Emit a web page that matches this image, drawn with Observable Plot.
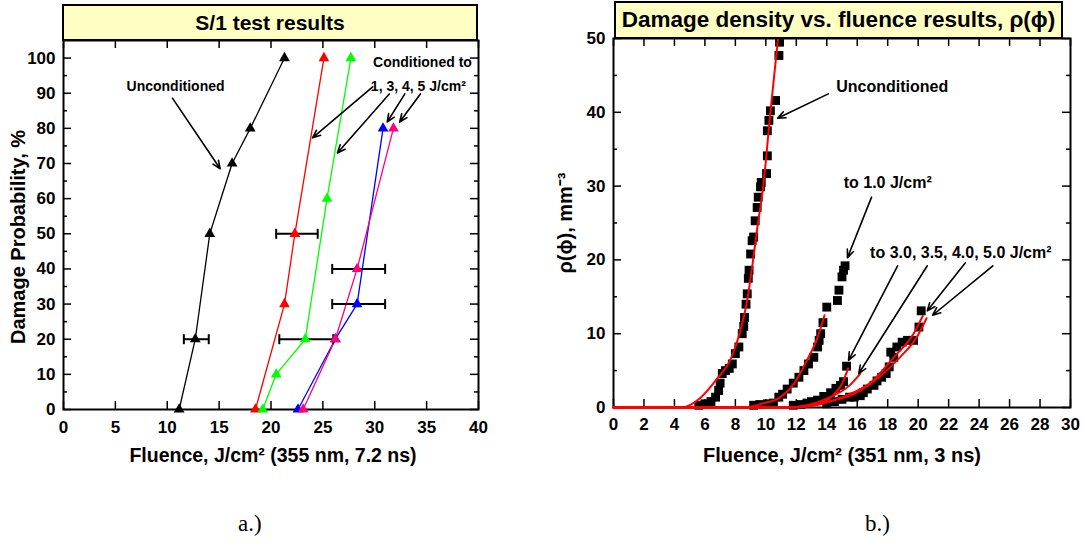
<!DOCTYPE html>
<html><head><meta charset="utf-8">
<script src="https://cdn.jsdelivr.net/npm/d3@7"></script>
<script src="https://cdn.jsdelivr.net/npm/@observablehq/plot@0.6"></script>
<style>
body{margin:0;background:#fff;}
#wrap{position:relative;width:1084px;height:543px;overflow:hidden;background:#fff;font-family:"Liberation Sans",Arial,sans-serif;}
.title{position:absolute;box-sizing:border-box;border:2px solid #000;background:#FFFFC4;font-weight:bold;display:flex;align-items:center;justify-content:center;}
.cap{position:absolute;font-family:"Liberation Serif","Times New Roman",serif;font-size:23px;}
#pa,#pb{position:absolute;top:0;}
</style></head><body>
<div id="wrap">
 <div id="pa" style="left:0"></div>
 <div id="pb" style="left:540px"></div>
 <div class="title" style="left:62px;top:4px;width:416px;height:37px;font-size:21px">S/1 test results</div>
 <div class="title" style="left:614px;top:1px;width:449px;height:38px;font-size:22.5px">Damage density vs. fluence results, ρ(ϕ)</div>
 <div class="cap" style="left:238px;top:511px">a.)</div>
 <div class="cap" style="left:865px;top:511px">b.)</div>
</div>
<script>
// ---------- Panel a data: S/1 damage probability ----------
const uncondX = [11.15, 12.7, 14.1, 16.25, 18.0, 21.3];
const uncondY = [0, 20, 50, 70, 80, 100];
const cond1X = [18.5, 21.3, 22.3, 25.1];
const cond1Y = [0, 30, 50, 100];
const cond3X = [19.2, 20.5, 23.3, 25.4, 27.7];
const cond3Y = [0, 10, 20, 60, 100];
const cond4X = [22.6, 26.2, 28.3, 30.8];
const cond4Y = [0, 20, 30, 80];
const cond5X = [23.1, 26.2, 28.3, 31.8];
const cond5Y = [0, 20, 40, 80];
const errY  = [20, 50, 20, 30, 40];
const errLo = [11.6, 20.5, 20.8, 25.9, 25.9];
const errHi = [14.0, 24.5, 26.0, 31.0, 31.0];
const xTicksA = [0, 5, 10, 15, 20, 25, 30, 35, 40];
const yTicksA = [0, 10, 20, 30, 40, 50, 60, 70, 80, 90, 100];
const yMinorA = [5, 15, 25, 35, 45, 55, 65, 75, 85, 95];
const annTextA = ["Unconditioned", "Conditioned to", "1, 3, 4, 5 J/cm²"];
const annXA = [10.8, 34.6, 34.2];
const annYA = [91.8, 98.6, 91.8];
const arrX1A = [10.5, 29.8, 31.4, 32.9, 34.4];
const arrY1A = [88.6, 91.8, 89.8, 89.8, 89.8];
const arrX2A = [15.1, 24.0, 26.4, 31.2, 32.4];
const arrY2A = [68.5, 77.3, 73.0, 81.8, 81.8];

// ---------- Panel b data: damage density ----------
const uncX = [5.6, 6.0, 6.4, 6.7, 6.9, 7.0, 7.14, 7.35, 7.6, 7.8, 8.0, 8.23, 8.45, 8.55, 8.6, 8.7, 8.78, 8.85, 8.9, 9.0, 9.1, 9.2, 9.3, 9.43, 9.5, 9.65, 9.7, 10.05, 10.1, 10.1, 10.2, 10.3, 10.64, 10.86, 10.9];
const uncY = [0.3, 0.5, 0.8, 1.4, 2.3, 3.3, 4.6, 5.0, 5.3, 5.9, 7.3, 8.2, 10.0, 11.0, 12.2, 14.0, 15.4, 17.5, 18.6, 20.8, 22.6, 23.1, 25.3, 27.1, 28.5, 29.9, 30.5, 31.7, 34.1, 37.5, 38.9, 40.2, 41.6, 47.7, 49.5];
const c10X = [9.2, 9.6, 10.1, 10.5, 10.85, 11.1, 11.4, 11.8, 12.17, 12.5, 12.8, 13.15, 13.4, 13.5, 13.6, 13.75, 14.0, 14.7, 14.8, 15.0, 15.1, 15.2];
const c10Y = [0.3, 0.4, 0.5, 0.6, 1.4, 1.8, 2.5, 3.3, 4.1, 5.0, 5.9, 6.8, 8.2, 9.1, 10.0, 11.5, 13.6, 14.5, 15.9, 17.7, 18.6, 19.2];
const c30X = [11.8, 12.3, 12.7, 13.0, 13.4, 13.8, 14.25, 14.6, 14.9, 15.1, 15.3];
const c30Y = [0.3, 0.4, 0.6, 0.8, 1.0, 1.5, 2.0, 2.6, 3.0, 3.5, 5.6];
const c45X = [14.0, 14.5, 15.0, 15.5, 15.8, 16.2, 16.4, 16.66, 17.1, 17.3, 17.6, 17.9, 18.1, 18.2, 18.4, 18.6, 18.95, 19.3, 19.7, 20.05, 20.2];
const c45Y = [0.5, 0.8, 1.1, 1.4, 1.4, 1.6, 2.0, 2.5, 3.0, 3.6, 4.1, 4.6, 5.5, 7.5, 6.8, 8.2, 8.85, 9.1, 9.1, 10.9, 13.1];
const fitUncX = [0, 4.5, 5.7, 6.8, 7.7, 8.3, 8.8, 9.1, 9.45, 9.83, 10.3, 10.8];
const fitUncY = [0, 0.05, 1.3, 3.9, 6.6, 10.2, 14.8, 19.0, 24.5, 30, 40, 50];
const fit10X = [0, 8.5, 9.9, 10.96, 11.84, 12.7, 13.4, 13.85];
const fit10Y = [0, 0, 0.6, 1.4, 3.2, 6.4, 9.5, 12.5];
const fit30X = [0, 11, 13.4, 14.5, 15.0, 15.4];
const fit30Y = [0, 0, 0.5, 1.85, 3.2, 5.3];
const fit35X = [0, 11.5, 14, 15.5, 16.2];
const fit35Y = [0, 0, 1.2, 3.0, 4.6];
const fit40X = [0, 12, 15, 17, 18.4, 19.7, 20.3];
const fit40Y = [0, 0, 1.4, 3.6, 6.8, 10, 12.4];
const fit50X = [0, 12, 13.4, 16.2, 18.8, 19.9, 20.55];
const fit50Y = [0, 0, 0.5, 2.3, 6.8, 9.5, 12.1];
const xTicksB = [0, 2, 4, 6, 8, 10, 12, 14, 16, 18, 20, 22, 24, 26, 28, 30];
const yTicksB = [0, 10, 20, 30, 40, 50];
const yMinorB = [5, 15, 25, 35, 45];
const annTextB = ["Unconditioned", "to 1.0 J/cm²", "to 3.0, 3.5, 4.0, 5.0 J/cm²"];
const annXB = [18.3, 18.0, 22.8];
const annYB = [43.4, 30.4, 20.9];
const arrX1B = [14.1, 16.94, 18.65, 20.6, 23.1, 24.9];
const arrY1B = [42.5, 28.5, 19.2, 19.2, 19.6, 19.2];
const arrX2B = [10.77, 15.36, 15.43, 16.1, 20.6, 20.95];
const arrY2B = [39.2, 20.3, 6.4, 4.6, 13.1, 12.5];

// ---------- helpers ----------
const zip = (xs, ys, extra = {}) => xs.map((x, i) => ({x, y: ys[i], ...extra}));
const font = "Liberation Sans, Arial, sans-serif";
const capSymbol = {draw(ctx, size) { const h = Math.sqrt(size / Math.PI); ctx.moveTo(0, -h); ctx.lineTo(0, h); }};

function frameTicks(xMajor, yMajor, yMinor, plotW, plotH) {
  const s = {stroke: "#000", strokeWidth: 1.5};
  return [
    Plot.tickX(xMajor, {x: d => d, insetTop: plotH - 8, ...s}),
    Plot.tickX(xMajor, {x: d => d, insetBottom: plotH - 8, ...s}),
    Plot.tickY(yMajor, {y: d => d, insetRight: plotW - 8, ...s}),
    Plot.tickY(yMajor, {y: d => d, insetLeft: plotW - 8, ...s}),
    Plot.tickY(yMinor, {y: d => d, insetRight: plotW - 4, ...s}),
    Plot.tickY(yMinor, {y: d => d, insetLeft: plotW - 4, ...s})
  ];
}

// ---------- Panel a ----------
{
  const W = 540, H = 480, mL = 63, mR = 62, mT = 40, mB = 71;
  const series = [
    {xs: uncondX, ys: uncondY, c: "#000000"},
    {xs: cond1X, ys: cond1Y, c: "#FF0000"},
    {xs: cond3X, ys: cond3Y, c: "#00FF00"},
    {xs: cond4X, ys: cond4Y, c: "#0000FF"},
    {xs: cond5X, ys: cond5Y, c: "#FF0080"}
  ];
  const pts = series.flatMap((s, k) => zip(s.xs, s.ys, {c: s.c, k}));
  const errs = errY.map((y, i) => ({y, lo: errLo[i], hi: errHi[i]}));
  const caps = errs.flatMap(e => [{x: e.lo, y: e.y}, {x: e.hi, y: e.y}]);
  const anns = annTextA.map((t, i) => ({t, x: annXA[i], y: annYA[i]}));
  const arrs = arrX1A.map((x1, i) => ({x1, y1: arrY1A[i], x2: arrX2A[i], y2: arrY2A[i]}));
  const plot = Plot.plot({
    width: W, height: H, marginLeft: mL, marginRight: mR, marginTop: mT, marginBottom: mB,
    x: {domain: [0, 40]}, y: {domain: [0, 105]},
    style: {fontFamily: font, background: "transparent", overflow: "visible"},
    marks: [
      Plot.frame({stroke: "#000", strokeWidth: 2}),
      ...frameTicks(xTicksA, yTicksA, yMinorA, W - mL - mR, H - mT - mB),
      ...series.map((s, k) => Plot.line(pts.filter(p => p.k === k), {x: "x", y: "y", stroke: s.c, strokeWidth: 1.3})),
      Plot.ruleY(errs, {y: "y", x1: "lo", x2: "hi", stroke: "#000", strokeWidth: 2}),
      Plot.dot(caps, {x: "x", y: "y", symbol: capSymbol, r: 5, fill: "none", stroke: "#000", strokeWidth: 2}),
      Plot.dot(pts, {x: "x", y: "y", symbol: "triangle", r: 4, fill: "c", stroke: "none"}),
      Plot.arrow(arrs, {x1: "x1", y1: "y1", x2: "x2", y2: "y2", stroke: "#000", strokeWidth: 1.6, headLength: 8, headAngle: 45}),
      Plot.text(anns, {x: "x", y: "y", text: "t", fontSize: 14, fontWeight: "bold", fill: "#000"}),
      Plot.axisX({ticks: xTicksA, tickSize: 0, tickPadding: 11, fontSize: 17, fontWeight: "bold", label: null}),
      Plot.axisY({ticks: yTicksA, tickSize: 0, tickPadding: 8, fontSize: 17, fontWeight: "bold", label: null}),
      Plot.text(["Fluence, J/cm² (355 nm, 7.2 ns)"], {frameAnchor: "bottom", dy: 46, dx: 2, lineAnchor: "middle", fontSize: 19.5, fontWeight: "bold", fill: "#000"}),
      Plot.text(["Damage Probability, %"], {frameAnchor: "left", textAnchor: "middle", dx: -45, dy: 12, rotate: -90, lineAnchor: "middle", fontSize: 20, fontWeight: "bold", fill: "#000"})
    ]
  });
  document.getElementById("pa").appendChild(plot);
}

// ---------- Panel b ----------
{
  const W = 544, H = 480, mL = 73, mR = 14, mT = 38, mB = 73;
  const squares = [
    ...zip(uncX, uncY), ...zip(c10X, c10Y), ...zip(c30X, c30Y), ...zip(c45X, c45Y)
  ];
  const fits = [[fitUncX, fitUncY], [fit10X, fit10Y], [fit30X, fit30Y], [fit35X, fit35Y], [fit40X, fit40Y], [fit50X, fit50Y]];
  const anns = annTextB.map((t, i) => ({t, x: annXB[i], y: annYB[i]}));
  const arrs = arrX1B.map((x1, i) => ({x1, y1: arrY1B[i], x2: arrX2B[i], y2: arrY2B[i]}));
  const plot = Plot.plot({
    width: W, height: H, marginLeft: mL, marginRight: mR, marginTop: mT, marginBottom: mB,
    x: {domain: [0, 30]}, y: {domain: [0, 50]},
    style: {fontFamily: font, background: "transparent", overflow: "visible"},
    marks: [
      Plot.frame({stroke: "#000", strokeWidth: 2}),
      ...frameTicks(xTicksB, yTicksB, yMinorB, W - mL - mR, H - mT - mB),
      Plot.dot(squares, {x: "x", y: "y", symbol: "square", r: 5, fill: "#000", stroke: "none"}),
      ...fits.map(([xs, ys]) => Plot.line(zip(xs, ys), {x: "x", y: "y", stroke: "#FF0000", strokeWidth: 2, curve: "monotone-x"})),
      Plot.arrow(arrs, {x1: "x1", y1: "y1", x2: "x2", y2: "y2", stroke: "#000", strokeWidth: 1.6, headLength: 8, headAngle: 45}),
      Plot.text(anns, {x: "x", y: "y", text: "t", fontSize: 16, fontWeight: "bold", fill: "#000"}),
      Plot.axisX({ticks: xTicksB, tickSize: 0, tickPadding: 10, fontSize: 17, fontWeight: "bold", label: null}),
      Plot.axisY({ticks: yTicksB, tickSize: 0, tickPadding: 8, fontSize: 17, fontWeight: "bold", label: null}),
      Plot.text(["Fluence, J/cm² (351 nm, 3 ns)"], {frameAnchor: "bottom", dy: 48, lineAnchor: "middle", fontSize: 20, fontWeight: "bold", fill: "#000"}),
      Plot.text(["ρ(ϕ), mm⁻³"], {frameAnchor: "left", textAnchor: "middle", dx: -48, dy: 0, rotate: -90, lineAnchor: "middle", fontSize: 20, fontWeight: "bold", fill: "#000"})
    ]
  });
  document.getElementById("pb").appendChild(plot);
}
</script>
</body></html>
